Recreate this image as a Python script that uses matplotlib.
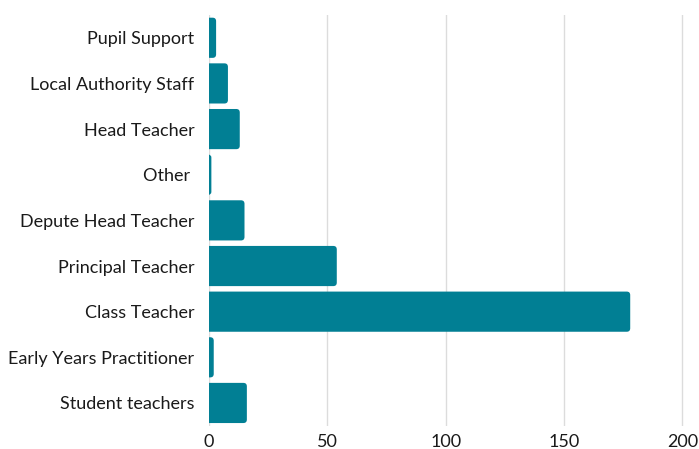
import matplotlib
matplotlib.use("Agg")
import matplotlib.pyplot as plt
from matplotlib.patches import FancyBboxPatch

plt.rcParams['font.family'] = ['Lato', 'DejaVu Sans']

roles = ["Pupil Support", "Local Authority Staff", "Head Teacher", "Other ",
         "Depute Head Teacher", "Principal Teacher", "Class Teacher",
         "Early Years Practitioner", "Student teachers"]
counts = [3, 8, 13, 1, 15, 54, 178, 2, 16]
xticks = [0, 50, 100, 150, 200]

bar_color = "#017f94"

fig = plt.figure(figsize=(6.99, 4.49), dpi=100)
ax = fig.add_axes([0.299, 0.0517, 0.694, 0.915])

ypos = list(range(len(roles)))
bars = ax.barh(ypos, counts, height=0.88, color=bar_color)
ax.set_xlim(0, 205)
ax.set_ylim(len(roles) - 0.5, -0.5)

# swap plain bars for rounded ones (left corners get clipped at x=0)
r_px = 3.5
fig.canvas.draw()
px_x = ax.transData.transform((1, 0))[0] - ax.transData.transform((0, 0))[0]
px_y = abs(ax.transData.transform((0, 1))[1] - ax.transData.transform((0, 0))[1])
r_x = r_px / px_x
aspect = (r_px / px_y) / r_x
for b in bars:
    x0, y0 = b.get_x(), b.get_y()
    w, h = b.get_width(), b.get_height()
    r = min(r_x, (w + r_x) / 2)
    p = FancyBboxPatch((x0 - r_x, y0), w + r_x, h,
                       boxstyle=f"round,pad=0,rounding_size={r}",
                       mutation_aspect=aspect, facecolor=bar_color,
                       edgecolor="none", zorder=3)
    ax.add_patch(p)
    b.set_visible(False)

ax.set_yticks(ypos)
ax.set_yticklabels(roles, fontsize=13, color="#1a1a1a")
ax.set_xticks(xticks)
ax.set_xticklabels([str(t) for t in xticks], fontsize=13, color="#1a1a1a")
ax.tick_params(axis="x", length=0, pad=6)
ax.tick_params(axis="y", length=0, pad=10.5)
ax.xaxis.grid(True, color="#dcdcdc", linewidth=1)
ax.set_axisbelow(True)
for s in ax.spines.values():
    s.set_visible(False)

fig.savefig("out.png", dpi=100)
